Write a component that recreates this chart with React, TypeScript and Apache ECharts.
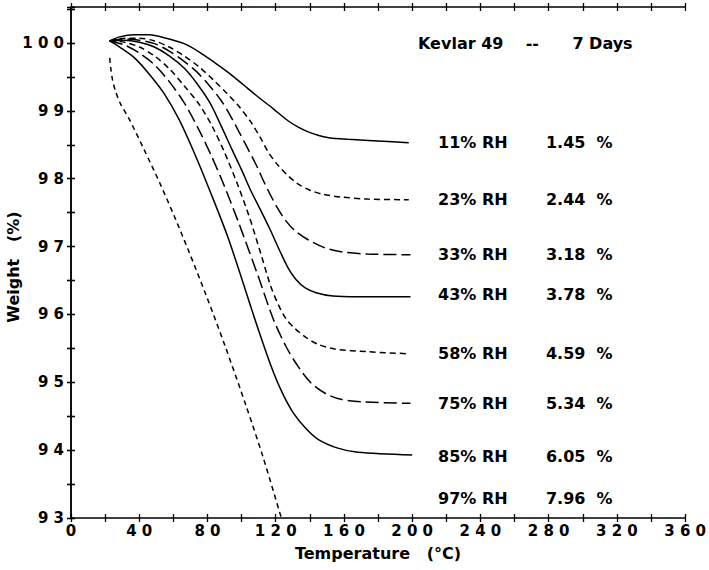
import React, { useEffect, useRef } from 'react';
import * as echarts from 'echarts';

// Weight (%) vs Temperature (°C) for each relative humidity: [temperature, weight]
const rh11 = [[22.7,100.03],[28.5,100.09],[37.2,100.12],[45.9,100.12],[55.8,100.07],[66.3,99.99],[75.0,99.87],[83.7,99.72],[92.5,99.56],[101.2,99.38],[109.9,99.2],[118.6,99.03],[127.4,98.85],[133.2,98.76],[139.0,98.69],[144.8,98.64],[151.8,98.6],[162.3,98.58],[176.8,98.56],[198,98.53]];
const rh23 = [[22.7,100.03],[31.4,100.07],[40.1,100.07],[48.9,100.03],[57.6,99.94],[66.3,99.81],[75.0,99.65],[83.7,99.45],[91.3,99.26],[98.3,99.07],[105.3,98.84],[111.1,98.6],[115.7,98.39],[121.6,98.19],[127.4,98.04],[133.2,97.92],[140.2,97.83],[147.7,97.77],[158.2,97.73],[173.9,97.7],[198,97.69]];
const rh33 = [[22.7,100.03],[31.4,100.06],[40.1,100.04],[48.9,99.99],[57.6,99.88],[66.3,99.73],[73.9,99.57],[80.8,99.38],[87.8,99.16],[93.6,98.92],[98.9,98.67],[104.1,98.42],[108.8,98.19],[112.8,97.97],[116.9,97.76],[121.0,97.57],[125.6,97.39],[131.4,97.23],[139.0,97.1],[148.9,96.98],[159.4,96.92],[173.9,96.89],[199,96.88]];
const rh43 = [[22.7,100.03],[31.4,100.04],[40.1,100.01],[48.9,99.94],[57.6,99.81],[66.3,99.63],[73.9,99.4],[81.4,99.12],[87.8,98.79],[94.2,98.44],[100.0,98.13],[105.3,97.83],[111.1,97.54],[116.9,97.24],[122.7,96.92],[127.4,96.68],[132.0,96.51],[137.3,96.39],[143.7,96.32],[153.5,96.27],[168.1,96.26],[199,96.26]];
const rh58 = [[22.7,100.03],[31.4,100.01],[40.1,99.94],[48.9,99.81],[57.6,99.62],[66.3,99.37],[75.0,99.1],[82.6,98.78],[89.6,98.41],[97.1,97.95],[104.1,97.47],[111.1,96.91],[116.9,96.43],[121.6,96.14],[126.2,95.93],[131.4,95.79],[137.3,95.67],[144.8,95.56],[154.7,95.49],[173.9,95.45],[198,95.42]];
const rh75 = [[22.7,100.03],[31.4,99.97],[40.1,99.85],[48.9,99.68],[57.6,99.43],[66.3,99.12],[75.0,98.72],[82.6,98.32],[89.6,97.91],[98.3,97.35],[109.9,96.55],[118.6,95.93],[126.2,95.52],[133.2,95.23],[140.7,94.99],[149.5,94.83],[158.2,94.75],[171.0,94.71],[199,94.69]];
const rh85 = [[22.7,100.03],[28.5,99.94],[37.2,99.78],[45.9,99.54],[54.7,99.25],[63.4,98.87],[72.1,98.39],[80.8,97.86],[92.5,97.1],[109.9,95.77],[118.6,95.15],[124.5,94.81],[130.3,94.55],[137.3,94.33],[144.8,94.16],[156.4,94.03],[168.1,93.97],[200,93.93]];
const rh97 = [[22.7,99.78],[23.3,99.63],[24.4,99.45],[26.2,99.28],[29.1,99.1],[34.3,98.87],[43.0,98.42],[51.8,97.95],[60.5,97.45],[69.2,96.92],[79.1,96.29],[90.1,95.55],[102.4,94.67],[112.8,93.88],[123.3,93.0]];

const curves = [rh11, rh23, rh33, rh43, rh58, rh75, rh85, rh97];
const curveNames = ['11% RH', '23% RH', '33% RH', '43% RH', '58% RH', '75% RH', '85% RH', '97% RH'];
const curveDash: (string | number[])[] = ['solid', [6, 4], [13, 5], 'solid', [6, 4], [13, 5], 'solid', [5, 4]];

// annotation labels
const rhLabels = ['11% RH', '23% RH', '33% RH', '43% RH', '58% RH', '75% RH', '85% RH', '97% RH'];
const lossLabels = ['1.45  %', '2.44  %', '3.18  %', '3.78  %', '4.59  %', '5.34  %', '6.05  %', '7.96  %'];
const labelY = [98.53, 97.69, 96.88, 96.29, 95.43, 94.68, 93.91, 93.29];
const labelXRH = 215.2;
const labelXLoss = 278.4;

const titleText = 'Kevlar 49    --      7 Days';
const xName = 'Temperature   (°C)';
const yName = 'Weight   (%)';

const FONT = 'DejaVu Sans';
const spaced = (s: string) => s.split('').join(' ');

export default function App() {
  const ref = useRef<HTMLDivElement>(null);
  useEffect(() => {
    if (!ref.current) return;
    const chart = echarts.init(ref.current, undefined, { renderer: 'svg' });
    const axisLine = { show: true, lineStyle: { color: '#000', width: 1.5 } };
    const tickIn = { show: true, inside: true, length: 4, lineStyle: { color: '#000', width: 1.3 } };
    const tickOut = { show: true, inside: false, length: 4, lineStyle: { color: '#000', width: 1.3 } };
    const xBase = { type: 'value', min: 0, max: 360, interval: 20, splitLine: { show: false } };
    const yBase = { type: 'value', min: 93, max: 100.53, interval: 0.5, splitLine: { show: false } };
    const labelFont = { fontFamily: FONT, fontWeight: 'bold', fontSize: 15, color: '#000' };
    const annFont = { fontFamily: FONT, fontWeight: 'bold', fontSize: 16, color: '#000' };

    const series: any[] = curves.map((d, i) => ({
      type: 'line',
      name: curveNames[i],
      data: d,
      xAxisIndex: 0,
      yAxisIndex: 0,
      showSymbol: false,
      symbol: 'none',
      smooth: 0.3,
      lineStyle: { color: '#000', width: 1.5, type: curveDash[i] },
      silent: true,
    }));
    const labelSeries = (xPos: number, texts: string[]) => ({
      type: 'scatter',
      xAxisIndex: 0,
      yAxisIndex: 0,
      symbolSize: 0,
      silent: true,
      itemStyle: { opacity: 1 },
      data: labelY.map((y, i) => ({ value: [xPos, y], name: texts[i] })),
      label: { show: true, position: 'right', distance: 0, formatter: '{b}', opacity: 1, ...annFont },
    });
    series.push(labelSeries(labelXRH, rhLabels));
    series.push(labelSeries(labelXLoss, lossLabels));

    chart.setOption({
      animation: false,
      backgroundColor: '#fff',
      title: { text: titleText, left: 418, top: 35, padding: 0, textStyle: { ...annFont } },
      grid: { left: 71, right: 19, top: 7, bottom: 52, containLabel: false },
      xAxis: [
        {
          ...xBase, position: 'bottom', axisLine, axisTick: tickIn,
          axisLabel: { ...labelFont, margin: 5, formatter: (v: number) => (v % 40 === 0 ? spaced(String(v)) : '') },
          name: xName, nameLocation: 'middle', nameGap: 27,
          nameTextStyle: { fontFamily: FONT, fontWeight: 'bold', fontSize: 16, color: '#000' },
        },
        { ...xBase, position: 'bottom', axisLine: { show: false }, axisTick: tickOut, axisLabel: { show: false } },
        { ...xBase, position: 'top', axisLine, axisTick: tickIn, axisLabel: { show: false } },
        { ...xBase, position: 'top', axisLine: { show: false }, axisTick: tickOut, axisLabel: { show: false } },
      ],
      yAxis: [
        {
          ...yBase, position: 'left', axisLine, axisTick: tickIn,
          axisLabel: { ...labelFont, margin: 7, formatter: (v: number) => (Number.isInteger(v) ? spaced(String(v)) : '') },
        },
        { ...yBase, position: 'left', axisLine: { show: false }, axisTick: tickOut, axisLabel: { show: false } },
        { ...yBase, position: 'right', axisLine, axisTick: tickIn, axisLabel: { show: false } },
        { ...yBase, position: 'right', axisLine: { show: false }, axisTick: tickOut, axisLabel: { show: false } },
      ],
      graphic: [
        {
          type: 'text', x: 13, y: 267, rotation: Math.PI / 2,
          style: { text: yName, font: `bold 16px "${FONT}"`, fill: '#000', align: 'center', verticalAlign: 'middle' },
        },
      ],
      series,
    });
    return () => chart.dispose();
  }, []);
  return <div ref={ref} style={{ position: 'fixed', left: 0, top: 0, width: 709, height: 570 }} />;
}
